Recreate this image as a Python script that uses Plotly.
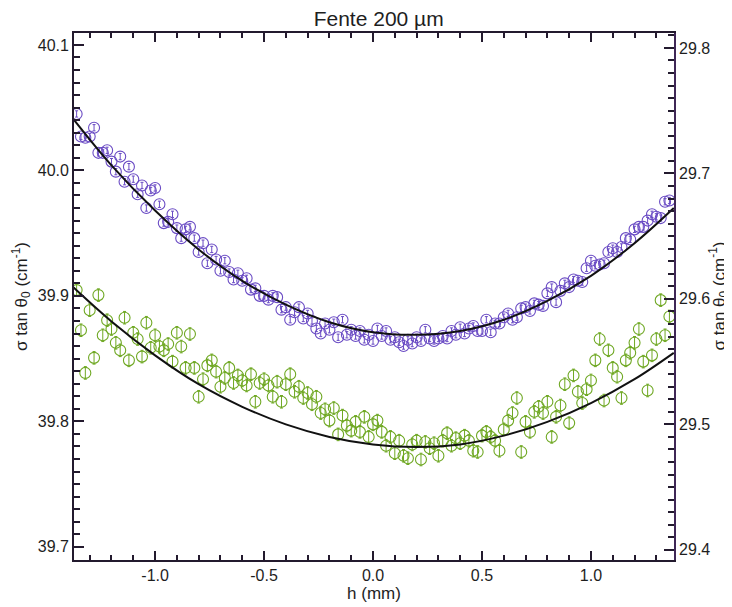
import plotly.graph_objects as go

# ---------------- data ----------------
H = [-1.36, -1.34, -1.32, -1.30, -1.28, -1.26, -1.24, -1.22, -1.20, -1.18,
     -1.16, -1.14, -1.12, -1.10, -1.08, -1.06, -1.04, -1.02, -1.00, -0.98,
     -0.96, -0.94, -0.92, -0.90, -0.88, -0.86, -0.84, -0.82, -0.80, -0.78,
     -0.76, -0.74, -0.72, -0.70, -0.68, -0.66, -0.64, -0.62, -0.60, -0.58,
     -0.56, -0.54, -0.52, -0.50, -0.48, -0.46, -0.44, -0.42, -0.40, -0.38,
     -0.36, -0.34, -0.32, -0.30, -0.28, -0.26, -0.24, -0.22, -0.20, -0.18,
     -0.16, -0.14, -0.12, -0.10, -0.08, -0.06, -0.04, -0.02, 0.00, 0.02,
     0.04, 0.06, 0.08, 0.10, 0.12, 0.14, 0.16, 0.18, 0.20, 0.22,
     0.24, 0.26, 0.28, 0.30, 0.32, 0.34, 0.36, 0.38, 0.40, 0.42,
     0.44, 0.46, 0.48, 0.50, 0.52, 0.54, 0.56, 0.58, 0.60, 0.62,
     0.64, 0.66, 0.68, 0.70, 0.72, 0.74, 0.76, 0.78, 0.80, 0.82,
     0.84, 0.86, 0.88, 0.90, 0.92, 0.94, 0.96, 0.98, 1.00, 1.02,
     1.04, 1.06, 1.08, 1.10, 1.12, 1.14, 1.16, 1.18, 1.20, 1.22,
     1.24, 1.26, 1.28, 1.30, 1.32, 1.34, 1.36]

# purple series (left axis, cm^-1)
PURPLE = [40.045, 40.027, 40.026, 40.027, 40.034, 40.014, 40.014, 40.016, 40.007, 39.999,
          40.011, 39.991, 40.003, 39.993, 39.981, 39.988, 39.970, 39.984, 39.986, 39.973,
          39.958, 39.959, 39.965, 39.954, 39.946, 39.953, 39.955, 39.946, 39.935, 39.942,
          39.926, 39.937, 39.929, 39.920, 39.928, 39.919, 39.913, 39.918, 39.912, 39.914,
          39.905, 39.906, 39.900, 39.900, 39.897, 39.900, 39.899, 39.889, 39.891, 39.881,
          39.887, 39.891, 39.882, 39.886, 39.880, 39.874, 39.870, 39.878, 39.873, 39.879,
          39.867, 39.881, 39.869, 39.873, 39.868, 39.872, 39.865, 39.869, 39.864, 39.874,
          39.868, 39.872, 39.865, 39.867, 39.863, 39.860, 39.865, 39.862, 39.867, 39.864,
          39.873, 39.866, 39.864, 39.866, 39.868, 39.866, 39.872, 39.869, 39.875, 39.870,
          39.874, 39.876, 39.872, 39.872, 39.881, 39.871, 39.878, 39.878, 39.883, 39.886,
          39.881, 39.883, 39.890, 39.891, 39.888, 39.894, 39.893, 39.892, 39.902, 39.907,
          39.895, 39.904, 39.910, 39.907, 39.913, 39.912, 39.911, 39.922, 39.928, 39.924,
          39.925, 39.926, 39.935, 39.938, 39.935, 39.939, 39.946, 39.945, 39.953, 39.955,
          39.955, 39.960, 39.965, 39.963, 39.962, 39.975, 39.976]

# green series (right axis, cm^-1)
GREEN = [29.607, 29.575, 29.541, 29.591, 29.553, 29.603, 29.571, 29.583, 29.576, 29.565,
         29.559, 29.585, 29.551, 29.573, 29.568, 29.554, 29.581, 29.561, 29.571, 29.562,
         29.559, 29.564, 29.550, 29.573, 29.562, 29.545, 29.572, 29.545, 29.522, 29.536,
         29.547, 29.551, 29.542, 29.530, 29.537, 29.545, 29.533, 29.539, 29.535, 29.531,
         29.540, 29.518, 29.533, 29.536, 29.531, 29.522, 29.534, 29.518, 29.532, 29.540,
         29.526, 29.530, 29.521, 29.525, 29.516, 29.522, 29.509, 29.512, 29.503, 29.513,
         29.492, 29.507, 29.499, 29.495, 29.502, 29.494, 29.506, 29.490, 29.500, 29.503,
         29.494, 29.483, 29.490, 29.477, 29.487, 29.475, 29.473, 29.484, 29.487, 29.472,
         29.486, 29.481, 29.485, 29.475, 29.487, 29.493, 29.483, 29.489, 29.485, 29.491,
         29.487, 29.479, 29.478, 29.491, 29.494, 29.490, 29.487, 29.479, 29.496, 29.503,
         29.509, 29.521, 29.478, 29.502, 29.494, 29.510, 29.514, 29.509, 29.518, 29.490,
         29.506, 29.515, 29.532, 29.501, 29.539, 29.526, 29.517, 29.528, 29.535, 29.551,
         29.568, 29.519, 29.559, 29.545, 29.538, 29.521, 29.551, 29.557, 29.565, 29.576,
         29.550, 29.527, 29.555, 29.568, 29.599, 29.571, 29.586]

PURPLE_ERR = 0.0025
GREEN_ERR = 0.005

# fitted curves
FIT_X = [-1.38, -1.2, -1.0, -0.8, -0.6, -0.4, -0.2, 0.0, 0.2, 0.4, 0.6, 0.8, 1.0, 1.2, 1.38]
PURPLE_FIT = [40.042, 40.004, 39.968, 39.937, 39.912, 39.893, 39.879, 39.871, 39.869,
              39.872, 39.881, 39.896, 39.916, 39.942, 39.970]
GREEN_FIT = [29.610, 29.582, 29.555, 29.532, 29.514, 29.500, 29.490, 29.484, 29.482,
             29.484, 29.491, 29.502, 29.517, 29.536, 29.557]

X_TICKS = [-1.0, -0.5, 0.0, 0.5, 1.0]
X_TICK_TEXT = ["-1.0", "-0.5", "0.0", "0.5", "1.0"]
Y_TICKS = [39.7, 39.8, 39.9, 40.0, 40.1]
Y_TICK_TEXT = ["39.7", "39.8", "39.9", "40.0", "40.1"]
Y2_TICKS = [29.4, 29.5, 29.6, 29.7, 29.8]
Y2_TICK_TEXT = ["29.4", "29.5", "29.6", "29.7", "29.8"]

TITLE = "Fente 200 µm"
X_TITLE = "h (mm)"
Y_TITLE = "σ tan θ<sub>0</sub> (cm<sup>-1</sup>)"

# ---------------- styling ----------------
PURPLE_C = "#6a4bc4"
GREEN_C = "#6fa823"
AX_C = "#231a2e"
TXT_C = "#1e1e1e"
FONT = "Liberation Sans, Arial, sans-serif"

fig = go.Figure()

fig.add_trace(go.Scatter(
    x=H, y=PURPLE, mode="markers",
    marker=dict(symbol="circle-open", size=11, color=PURPLE_C, line=dict(width=1.1)),
    error_y=dict(type="constant", value=PURPLE_ERR, color=PURPLE_C, thickness=1, width=1.5),
    yaxis="y", showlegend=False,
))
fig.add_trace(go.Scatter(
    x=H, y=GREEN, mode="markers",
    marker=dict(symbol="circle-open", size=11, color=GREEN_C, line=dict(width=1.1)),
    error_y=dict(type="constant", value=GREEN_ERR, color=GREEN_C, thickness=1, width=1.5),
    yaxis="y2", showlegend=False,
))
fig.add_trace(go.Scatter(
    x=FIT_X, y=PURPLE_FIT, mode="lines", line=dict(color="#111111", width=2, shape="spline"),
    yaxis="y", showlegend=False,
))
fig.add_trace(go.Scatter(
    x=FIT_X, y=GREEN_FIT, mode="lines", line=dict(color="#111111", width=2, shape="spline"),
    yaxis="y2", showlegend=False,
))

OFFSET = 10.2976
Y_RANGE = [39.6895, 40.1095]

# the page body adds an 8 px margin, so the figure is 8 px smaller and shifted
fig.update_layout(
    width=724, height=599,
    margin=dict(l=66, r=58, t=25, b=47, autoexpand=False),
    paper_bgcolor="white", plot_bgcolor="white",
    font=dict(family=FONT, size=16, color=TXT_C),
    title=dict(text=TITLE, x=0.512, xanchor="center", y=0.982, yanchor="middle",
               font=dict(size=21, color=TXT_C, family=FONT)),
    xaxis=dict(
        range=[-1.372, 1.381], tickvals=X_TICKS, ticktext=X_TICK_TEXT,
        ticks="inside", ticklen=9, tickwidth=1.8, tickcolor=AX_C,
        minor=dict(dtick=0.1, tick0=0, ticks="inside", ticklen=5, tickwidth=1.5, tickcolor=AX_C, showgrid=False),
        showline=True, linecolor=AX_C, linewidth=1.8, mirror="ticks",
        showgrid=False, zeroline=False, automargin=False,
        title=dict(text=X_TITLE, standoff=4, font=dict(size=17)),
        tickfont=dict(size=16),
    ),
    yaxis=dict(
        range=Y_RANGE, tickvals=Y_TICKS, ticktext=Y_TICK_TEXT,
        ticks="inside", ticklen=10, tickwidth=1.8, tickcolor=AX_C,
        minor=dict(dtick=0.01, tick0=39.7, ticks="inside", ticklen=6, tickwidth=1.5, tickcolor=AX_C, showgrid=False),
        showline=True, linecolor=AX_C, linewidth=1.8,
        showgrid=False, zeroline=False, automargin=False,
        title=dict(text=Y_TITLE, standoff=6, font=dict(size=17)),
        tickfont=dict(size=16),
    ),
    yaxis2=dict(
        overlaying="y", side="right",
        range=[Y_RANGE[0] - OFFSET, Y_RANGE[1] - OFFSET],
        tickvals=Y2_TICKS, ticktext=Y2_TICK_TEXT,
        ticks="inside", ticklen=10, tickwidth=1.8, tickcolor=AX_C,
        minor=dict(dtick=0.01, tick0=29.4, ticks="inside", ticklen=6, tickwidth=1.5, tickcolor=AX_C, showgrid=False),
        showline=True, linecolor="#3f2756", linewidth=1.8,
        showgrid=False, zeroline=False, automargin=False,
        tickfont=dict(size=16),
    ),
    annotations=[dict(
        text=Y_TITLE, textangle=-90, xref="paper", yref="paper",
        x=1.0, xshift=45, y=0.5, xanchor="center", yanchor="middle",
        showarrow=False, font=dict(size=17, color=TXT_C, family=FONT),
    )],
)

fig.write_html("out.html")
